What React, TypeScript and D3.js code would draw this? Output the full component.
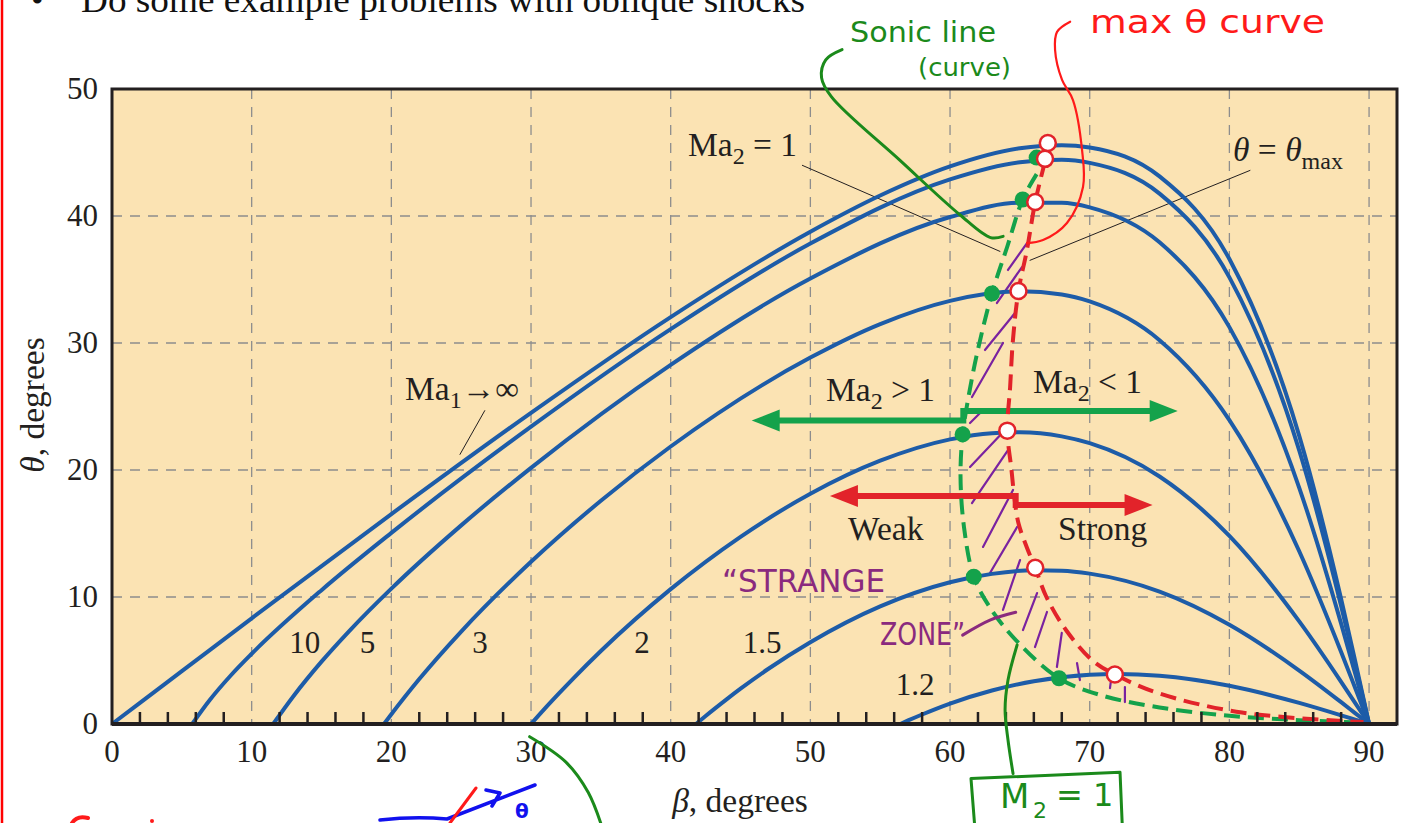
import React from 'react';
import * as d3 from 'd3';

const W = 1403;
const H = 823;

// theta-beta-Ma curves: [beta, theta] in degrees
const curveMInf = [[0, 0], [2, 1.67], [5, 4.16], [10, 8.32], [20, 16.53], [30, 24.5], [40, 32.04], [50, 38.76], [55, 41.61], [60, 43.9], [65, 45.33], [68, 45.58], [70, 45.4], [75, 43.12], [80, 36.61], [85, 22.69], [88, 9.84], [89, 4.98], [90, 0]];
const curveM10 = [[5.74, 0], [7, 1.89], [8.5, 3.82], [10, 5.53], [15, 10.54], [20, 15.05], [30, 23.41], [40, 31.09], [50, 37.83], [60, 42.88], [65, 44.23], [68, 44.42], [70, 44.18], [75, 41.76], [80, 35.17], [85, 21.55], [88, 9.29], [89, 4.7], [90, 0]];
const curveM5 = [[11.54, 0], [13, 2.21], [15, 4.91], [17, 7.34], [20, 10.66], [25, 15.64], [30, 20.17], [40, 28.28], [50, 35.08], [60, 39.92], [65, 41.04], [68, 41.04], [70, 40.68], [75, 37.93], [80, 31.25], [85, 18.6], [88, 7.9], [89, 3.99], [90, 0]];
const curveM3 = [[19.47, 0], [20, 0.77], [21, 2.18], [22, 3.54], [25, 7.28], [30, 12.77], [35, 17.58], [40, 21.85], [50, 28.85], [55, 31.49], [60, 33.32], [65, 34.07], [68, 33.82], [70, 33.27], [75, 30.22], [80, 23.93], [85, 13.6], [88, 5.67], [89, 2.85], [90, 0]];
const curveM2 = [[30, 0], [31, 1.23], [32, 2.41], [33, 3.56], [35, 5.75], [40, 10.62], [45, 14.74], [50, 18.13], [55, 20.73], [60, 22.41], [63, 22.9], [65, 22.97], [68, 22.65], [70, 22.11], [75, 19.49], [80, 14.81], [85, 8.08], [88, 3.32], [89, 1.66], [90, 0]];
const curveM15 = [[41.81, 0], [42.5, 0.63], [44, 1.94], [45, 2.78], [47, 4.35], [50, 6.44], [55, 9.26], [60, 11.16], [63, 11.82], [66, 12.11], [68, 12.07], [70, 11.84], [75, 10.43], [80, 7.82], [85, 4.21], [88, 1.72], [89, 0.86], [90, 0]];
const curveM12 = [[56.44, 0], [57, 0.28], [58, 0.75], [60, 1.61], [63, 2.64], [66, 3.37], [70, 3.88], [72, 3.94], [75, 3.8], [80, 3.01], [85, 1.66], [88, 0.68], [89, 0.34], [90, 0]];
const machCurves = [curveMInf, curveM10, curveM5, curveM3, curveM2, curveM15, curveM12];

// curve labels and where they sit
const machLabels = ['10', '5', '3', '2', '1.5', '1.2'];
const machLabelBeta = [13.8, 18.3, 26.35, 37.95, 46.55, 57.5];
const machLabelTheta = [5.6, 5.6, 5.6, 5.6, 5.6, 2.3];

const betaTicks = [0, 10, 20, 30, 40, 50, 60, 70, 80, 90];
const thetaTicks = [0, 10, 20, 30, 40, 50];
const betaGrid = [10, 20, 30, 40, 50, 60, 70, 80, 90];
const thetaGrid = [10, 20, 30, 40];
const betaMinor = [2, 4, 6, 8, 12, 14, 16, 18, 22, 24, 26, 28, 32, 34, 36, 38, 42, 44, 46, 48, 52, 54, 56, 58, 62, 64, 66, 68, 72, 74, 76, 78, 82, 84, 86, 88];

// sonic (Ma2 = 1) and max-theta points
const sonicPoints = [[66.2, 44.6], [65.2, 41.3], [63.0, 33.9], [60.9, 22.8], [61.7, 11.6], [67.8, 3.6]];
const maxPoints = [[67.0, 45.75], [66.8, 44.5], [66.1, 41.1], [64.9, 34.1], [64.1, 23.1], [66.1, 12.3], [71.8, 3.9]];
const sonicLine = [[66.2, 43.3], [65.2, 41.3], [64.1, 37.6], [63.0, 33.9], [61.9, 29.0], [61.2, 25.0], [60.9, 22.8], [60.75, 19.5], [61.0, 15.5], [61.7, 11.6], [62.9, 9.1], [64.8, 6.5], [67.8, 3.6], [70.7, 2.3], [75, 1.3], [80, 0.65], [85, 0.3], [89.6, 0.1]];
const maxLine = [[66.8, 44.3], [66.1, 41.1], [65.5, 37.3], [64.9, 34.1], [64.5, 30.2], [64.3, 26.5], [64.1, 23.1], [64.4, 20.0], [64.6, 17.9], [64.9, 15.8], [65.5, 13.9], [66.1, 12.3], [66.9, 10.0], [68.3, 7.4], [70.2, 5.0], [71.8, 3.9], [75.0, 2.4], [80.9, 0.9], [89.6, 0.15]];

// purple hatch strokes of the "strange zone": [b1, t1, b2, t2]
const hatchStrokes = [
  [64.15, 35.75, 65.51, 37.87], [63.36, 33.15, 65.15, 35.98], [62.5, 29.45, 64.65, 32.36], [61.57, 25.75, 63.79, 30.0],
  [61.43, 23.7, 62.15, 24.49], [61.43, 20.24, 63.94, 23.15], [61.57, 17.4, 64.15, 21.57], [62.36, 13.94, 64.51, 18.43],
  [62.86, 11.89, 64.8, 15.51], [63.79, 8.98, 65.01, 12.91], [65.22, 7.4, 66.23, 10.31], [66.08, 6.06, 66.94, 8.82],
  [67.65, 4.49, 68.0, 7.17], [69.3, 3.46, 69.09, 4.8], [71.45, 2.83, 71.6, 4.09], [72.52, 1.73, 72.52, 2.91],
];

// region arrows: beta [left tip, step, right tip], theta [left, right]
const greenArrowBeta = [45.8, 60.95, 76.3];
const greenArrowTheta = [23.9, 24.65];
const redArrowBeta = [51.4, 64.7, 74.5];
const redArrowTheta = [17.95, 17.24];

// thin leader lines
const leaderMa2 = [[49.4, 44.0], [63.6, 37.2]];
const leaderThetaMax = [[81.5, 43.6], [65.7, 36.5]];
const leaderMaInf = [[26.7, 24.7], [24.9, 21.2]];

// hand-drawn annotation strokes
const sonicNote = [[52.27, 53.1], [51.1, 52.3], [50.8, 50.9], [51.5, 49.4], [56.4, 44.4], [60.7, 40.1], [62.9, 38.3], [63.8, 38.4]];
const maxNote = [[68.6, 55.3], [67.66, 54.5], [67.52, 53.07], [68.02, 50.71], [68.8, 49.13], [69.45, 45.2], [69.52, 42.28], [68.37, 39.45], [66.66, 38.11], [65.51, 37.87]];
const zoneNote = [[60.9, 7.0], [62.9, 8.2], [64.7, 8.8]];
const m2Note = [[64.8, 6.22], [64.15, 3.46], [63.94, 1.1], [64.15, -1.26], [64.51, -3.9]];
const m2Box = [[61.8, -8.5], [61.5, -4.3], [72.17, -3.8], [72.35, -8.5]];
const betaNote = [[29.9, -1.0], [32.5, -3.0], [34.1, -5.4], [35.2, -8.5]];

const x = d3.scaleLinear().domain([0, 92]).range([112, 1397]);
const y = d3.scaleLinear().domain([0, 50]).range([724, 89]);

const smooth = d3.line<number[]>().x(d => x(d[0])).y(d => y(d[1])).curve(d3.curveMonotoneX);
const freehand = d3.line<number[]>().x(d => x(d[0])).y(d => y(d[1])).curve(d3.curveCatmullRom.alpha(0.5));
const straight = d3.line<number[]>().x(d => x(d[0])).y(d => y(d[1]));

const ink = '#231f20';
const blue = '#1d5ca8';
const green = '#14a24b';
const red = '#e2232a';
const purple = '#7a22a0';
const handGreen = '#1b8a1b';
const serif = "'Liberation Serif', 'Times New Roman', serif";
const hand = "'DejaVu Sans', sans-serif";

function head(tx: number, ty: number, dir: number) {
  const L = 28, hw = 11;
  return `M${tx},${ty}L${tx - dir * L},${ty - hw}L${tx - dir * L},${ty + hw}Z`;
}

function RegionArrow({ betas, thetas, color }: { betas: number[]; thetas: number[]; color: string }) {
  const xl = x(betas[0]), xs = x(betas[1]), xr = x(betas[2]);
  const yl = y(thetas[0]), yr = y(thetas[1]);
  return (
    <g>
      <path d={`M${xl + 24},${yl}H${xs}V${yr}H${xr - 24}`} fill="none" stroke={color} strokeWidth={6} />
      <path d={head(xl, yl, -1)} fill={color} />
      <path d={head(xr, yr, 1)} fill={color} />
    </g>
  );
}

export default function App() {
  const left = x(0), right = x(92), top = y(50), bottom = y(0);
  return (
    <svg width={W} height={H} style={{ position: 'absolute', left: 0, top: 0, background: '#fff' }} fontFamily={serif}>
      <line x1={2} x2={2} y1={0} y2={H} stroke="#ff0000" strokeWidth={2.5} />
      <text x={31} y={12} fontSize={36} fill="#111">•</text>
      <text x={81} y={12} fontSize={36} fill="#111" textLength={724} lengthAdjust="spacingAndGlyphs">Do some example problems with oblique shocks</text>

      {/* plot area */}
      <rect x={left} y={top} width={right - left} height={bottom - top} fill="#fbe3b3" />
      {betaGrid.map(b => (
        <line key={'gx' + b} x1={x(b)} x2={x(b)} y1={top} y2={bottom} stroke="#8d8d8d" strokeWidth={1.3} strokeDasharray="10,8" />
      ))}
      {thetaGrid.map(t => (
        <line key={'gy' + t} x1={left} x2={right} y1={y(t)} y2={y(t)} stroke="#8d8d8d" strokeWidth={1.3} strokeDasharray="10,8" />
      ))}

      {/* hatching */}
      {hatchStrokes.map((h, i) => (
        <line key={'h' + i} x1={x(h[0])} y1={y(h[1])} x2={x(h[2])} y2={y(h[3])} stroke={purple} strokeWidth={2.2} strokeLinecap="round" />
      ))}

      {/* leaders */}
      {[leaderMa2, leaderThetaMax, leaderMaInf].map((l, i) => (
        <path key={'l' + i} d={straight(l) || ''} stroke={ink} strokeWidth={1} fill="none" />
      ))}

      {/* shock curves */}
      {machCurves.map((c, i) => (
        <path key={'c' + i} d={smooth(c) || ''} fill="none" stroke={blue} strokeWidth={4} />
      ))}

      <RegionArrow betas={greenArrowBeta} thetas={greenArrowTheta} color={green} />
      <RegionArrow betas={redArrowBeta} thetas={redArrowTheta} color={red} />

      <path d={freehand(sonicLine) || ''} fill="none" stroke={green} strokeWidth={4} strokeDasharray="16,8" />
      <path d={freehand(maxLine) || ''} fill="none" stroke={red} strokeWidth={4} strokeDasharray="16,8" />

      {sonicPoints.map((p, i) => (
        <circle key={'s' + i} cx={x(p[0])} cy={y(p[1])} r={8} fill={green} />
      ))}
      {maxPoints.map((p, i) => (
        <circle key={'m' + i} cx={x(p[0])} cy={y(p[1])} r={8} fill="#fff" stroke={red} strokeWidth={2.5} />
      ))}

      {/* printed labels */}
      <g fill={ink} fontSize={33.5}>
        {machLabels.map((m, i) => (
          <text key={'ml' + i} x={x(machLabelBeta[i])} y={y(machLabelTheta[i])} textAnchor="middle" fontSize={31}>{m}</text>
        ))}
        <text x={688} y={156}>Ma<tspan dy={8} fontSize={24}>2</tspan><tspan dy={-8}> = 1</tspan></text>
        <text x={1233} y={161}><tspan fontStyle="italic">θ</tspan> = <tspan fontStyle="italic">θ</tspan><tspan dy={8} fontSize={24}>max</tspan></text>
        <text x={405} y={400}>Ma<tspan dy={8} fontSize={24}>1</tspan><tspan dy={-8}>→∞</tspan></text>
        <text x={826} y={401}>Ma<tspan dy={8} fontSize={24}>2</tspan><tspan dy={-8}> &gt; 1</tspan></text>
        <text x={1033} y={393}>Ma<tspan dy={8} fontSize={24}>2</tspan><tspan dy={-8}> &lt; 1</tspan></text>
        <text x={848} y={540}>Weak</text>
        <text x={1058} y={540}>Strong</text>
      </g>

      {/* axes frame and ticks */}
      <rect x={left} y={top} width={right - left} height={bottom - top} fill="none" stroke={ink} strokeWidth={3} />
      <line x1={left} x2={right} y1={bottom} y2={bottom} stroke={ink} strokeWidth={4} />
      {betaMinor.map(b => (
        <line key={'t' + b} x1={x(b)} x2={x(b)} y1={bottom} y2={bottom - 12} stroke={ink} strokeWidth={2.5} />
      ))}
      <g fill={ink} fontSize={31}>
        {betaTicks.map(b => (
          <text key={'bx' + b} x={x(b)} y={762} textAnchor="middle">{b}</text>
        ))}
        {thetaTicks.map(t => (
          <text key={'ty' + t} x={98} y={y(t) + 10} textAnchor="end">{t}</text>
        ))}
        <text x={740} y={812} textAnchor="middle" fontSize={33.5}><tspan fontStyle="italic">β</tspan>, degrees</text>
        <text transform={`translate(44,405) rotate(-90)`} textAnchor="middle" fontSize={33.5}><tspan fontStyle="italic">θ</tspan>, degrees</text>
      </g>

      {/* handwritten notes */}
      <g fill="none" strokeLinecap="round" strokeLinejoin="round">
        <path d={freehand(sonicNote) || ''} stroke={handGreen} strokeWidth={3} />
        <path d={freehand(maxNote) || ''} stroke="#ff1a1a" strokeWidth={2.2} />
        <path d={freehand(zoneNote) || ''} stroke="#8a2a7e" strokeWidth={3} />
        <path d={freehand(m2Note) || ''} stroke={handGreen} strokeWidth={3} />
        <path d={straight(m2Box) || ''} stroke={handGreen} strokeWidth={3} />
        <path d={freehand(betaNote) || ''} stroke={handGreen} strokeWidth={3} />
        <path d="M380,820 Q415,816 447,819 L535,785 M492,806 L500,793 L486,790" stroke="#1111ee" strokeWidth={3.5} />
        <path d="M450,823 L476,788" stroke="#ff1a1a" strokeWidth={3} />
        <path d="M72,823 Q77,815 88,818" stroke="#ff1a1a" strokeWidth={4} />
        <circle cx={152} cy={821} r={2} fill="#ff1a1a" stroke="none" />
      </g>
      <g fontFamily={hand}>
        <text x={850} y={42} fontSize={28} fill={handGreen} textLength={146} lengthAdjust="spacingAndGlyphs">Sonic line</text>
        <text x={918} y={76} fontSize={24} fill={handGreen} textLength={93} lengthAdjust="spacingAndGlyphs">(curve)</text>
        <text x={1090} y={33} fontSize={32} fill="#ff1a1a" textLength={235} lengthAdjust="spacingAndGlyphs">max θ curve</text>
        <text x={722} y={592} fontSize={32} fill="#8a2a7e" textLength={163} lengthAdjust="spacingAndGlyphs">“STRANGE</text>
        <text x={880} y={645} fontSize={32} fill="#8a2a7e" textLength={85} lengthAdjust="spacingAndGlyphs">ZONE”</text>
        <text x={1000} y={808} fontSize={34} fill={handGreen}>M</text>
        <text x={1033} y={818} fontSize={22} fill={handGreen}>2</text>
        <text x={1056} y={806} fontSize={32} fill={handGreen}>= 1</text>
        <text x={515} y={818} fontSize={20} fontWeight="bold" fill="#1111ee">θ</text>
      </g>
    </svg>
  );
}
